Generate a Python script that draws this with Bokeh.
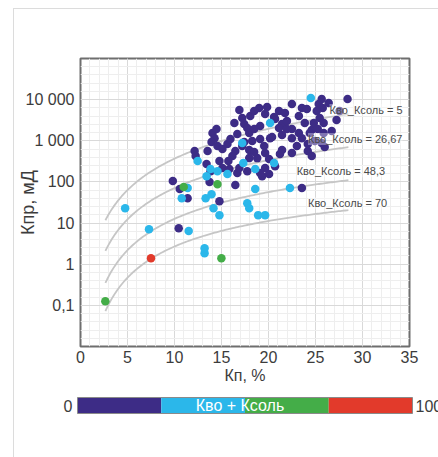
import numpy as np
from bokeh.plotting import figure
from bokeh.layouts import column
from bokeh.models import Range1d, FixedTicker, CustomJSTickFormatter, Label
from bokeh.core.properties import value
from bokeh.embed import file_html
from bokeh.resources import INLINE

FONT = "Liberation Sans"
TEXT = "#3c3c3c"

# ---- axes ----
x_ticks = [0, 5, 10, 15, 20, 25, 30, 35]
y_ticks = [0.1, 1, 10, 100, 1000, 10000]
y_tick_labels = ["0,1", "1", "10", "100", "1 000", "10 000"]

# ---- samples, grouped by Кво + Ксоль class ----
purple_kp = [9.82, 10.45, 10.56, 11.40, 12.14, 12.25, 13.41, 14.04, 14.26, 14.47,
             13.94, 14.57, 14.78, 13.73, 14.78, 13.52, 15.10, 15.63, 15.10, 13.83,
             15.84, 16.68, 17.74, 16.47, 16.47, 19.32, 19.64, 18.80, 20.06, 17.95,
             18.48, 17.42, 17.95, 16.68, 19.11, 20.38, 21.44, 22.49, 23.55, 24.92,
             25.98, 21.44, 22.49, 24.18, 24.60, 23.55, 24.60, 25.87, 22.49, 21.44,
             19.11, 17.42, 16.37, 20.70, 21.96, 23.23, 23.86, 24.82, 25.87, 27.24,
             19.64, 18.06, 16.90, 19.01, 19.85, 21.12, 22.49, 23.55, 25.34, 25.77,
             26.40, 28.41, 17.21, 20.59, 17.74, 18.48, 21.12, 20.17, 25.66, 25.13,
             24.08, 25.45, 24.39, 23.23, 25.66, 17.21, 16.16, 17.95, 19.64, 21.22,
             20.70, 16.90, 19.11, 20.06, 15.73, 21.75, 18.48, 21.96, 23.02, 19.54,
             15.95, 18.27, 24.18, 25.24, 27.56, 26.72]
purple_kpr = [105, 7.5, 67, 40, 561, 424, 271, 1540, 1160, 1930,
              930, 743, 321, 99, 34, 561, 628, 831, 217, 183,
              205, 164, 183, 561, 84, 138, 217, 379, 359, 594,
              531, 930, 1540, 1460, 1100, 1230, 1380, 1160, 1160, 984,
              703, 594, 502, 561, 424, 71, 1820, 1540, 1930, 2550,
              2280, 2550, 2700, 3370, 3020, 3990, 2700, 2700, 2700, 3190,
              4470, 3990, 5590, 6250, 6600, 5280, 7810, 6250, 7810, 6250,
              8260, 10350, 3570, 3770, 2040, 1930, 2040, 1160, 10350, 5280,
              5910, 3570, 1540, 1540, 880, 743, 424, 379, 502, 475,
              242, 217, 164, 155, 321, 4720, 5280, 1930, 743, 743,
              1100, 984, 831, 1930, 5280, 1720]

blue_kp = [4.75, 7.29, 11.51, 13.20, 13.20, 10.77, 11.40, 13.31, 13.94, 14.15,
           14.78, 12.46, 13.41, 13.83, 14.57, 15.63, 17.32, 18.59, 20.59, 18.59,
           22.28, 17.74, 17.95, 18.90, 19.64, 20.17, 24.50, 17.21]
blue_kpr = [23, 7.1, 6.4, 2.45, 1.85, 40, 71, 40, 50, 23,
            15.6, 321, 138, 205, 183, 155, 287, 205, 287, 67,
            71, 30.5, 23, 15.6, 15.6, 2700, 10900, 880]

green_kp = [10.98, 14.57, 14.99, 2.64]
green_kpr = [75, 88, 1.4, 0.126]

red_kp = [7.50]
red_kpr = [1.4]

# ---- Кво + Ксоль classes (colour scale) ----
bins = [0, 25, 50, 75, 100]
bin_colors = ["#3d2c86", "#2bb7ea", "#44ad48", "#e23a2b"]
scale_title = "Кво + Ксоль"

# ---- model curves Кпр(Кп) for fixed Кво_Ксоль, anchor points ----
curve_levels = ["5", "26,67", "48,3", "70"]
curve_kp = [2.65, 13.0, 28.5]
curve_kpr_5 = [11.7, 700, 4450]
curve_kpr_26 = [2.1, 131, 700]
curve_kpr_48 = [0.35, 23, 110]
curve_kpr_70 = [0.072, 4.8, 20.6]

# ================= main scatter =================
p = figure(width=424, height=386,
           x_range=Range1d(0, 35), y_range=Range1d(0.01, 1e5),
           y_axis_type="log", output_backend="svg", toolbar_location=None,
           min_border_left=63, min_border_right=29,
           min_border_top=49, min_border_bottom=49,
           background_fill_color="white", border_fill_color="white",
           outline_line_color="#6e6e6e", outline_line_width=2)

xt = FixedTicker(ticks=x_ticks, minor_ticks=list(range(0, 36)))
yt = FixedTicker(ticks=y_ticks,
                 minor_ticks=[10 ** (k + j / 5) for k in range(-2, 5) for j in range(1, 5)])
p.xaxis.ticker = xt
p.yaxis.ticker = yt
p.xgrid.ticker = xt
p.ygrid.ticker = yt
p.yaxis.formatter = CustomJSTickFormatter(
    args=dict(vals=y_ticks, labs=y_tick_labels),
    code="""
for (let i = 0; i < vals.length; i++) {
  if (Math.abs(Math.log10(tick) - Math.log10(vals[i])) < 1e-6) return labs[i];
}
return '';
""")

for g in (p.xgrid, p.ygrid):
    g.grid_line_color = "#d9d9d9"
    g.grid_line_width = 1
    g.minor_grid_line_color = "#eeeeee"
    g.minor_grid_line_width = 1

for ax in p.axis:
    ax.major_tick_line_color = None
    ax.minor_tick_line_color = None
    ax.major_tick_out = 0
    ax.major_tick_in = 0
    ax.minor_tick_out = 0
    ax.minor_tick_in = 0
    ax.axis_line_color = None
    ax.major_label_text_font = FONT
    ax.major_label_text_font_size = "16px"
    ax.major_label_text_color = TEXT
    ax.axis_label_text_font = FONT
    ax.axis_label_text_font_style = "normal"
    ax.axis_label_text_color = TEXT

p.xaxis.axis_label = "Кп, %"
p.xaxis.axis_label_text_font_size = "16px"
p.xaxis.major_label_standoff = 4
p.xaxis.axis_label_standoff = 1

p.yaxis.axis_label = "Кпр, мД"
p.yaxis.axis_label_text_font_size = "18px"
p.yaxis.major_label_standoff = 6
p.yaxis.axis_label_standoff = -15

# model curves: quadratic in log-log space through the anchor points
for kpr in (curve_kpr_5, curve_kpr_26, curve_kpr_48, curve_kpr_70):
    coef = np.polyfit(np.log10(curve_kp), np.log10(kpr), 2)
    xs = np.linspace(curve_kp[0], curve_kp[-1], 150)
    ys = 10 ** np.polyval(coef, np.log10(xs))
    p.line(xs, ys, line_color="#c6c6c6", line_width=1.8)

# sample points
for kp, kpr, col in ((purple_kp, purple_kpr, bin_colors[0]),
                     (blue_kp, blue_kpr, bin_colors[1]),
                     (green_kp, green_kpr, bin_colors[2]),
                     (red_kp, red_kpr, bin_colors[3])):
    p.scatter(kp, kpr, size=8.5, fill_color=col, line_color=None)

# curve labels
for (lx, ly), lvl in zip([(26.5, 5590), (24.2, 1100), (23.0, 183), (24.2, 30.5)], curve_levels):
    p.add_layout(Label(x=lx, y=ly, text=f"Кво_Ксоль = {lvl}",
                       text_font=FONT, text_font_size="11px", text_color="#4a4a4a",
                       text_baseline="middle",
                       background_fill_color="white", background_fill_alpha=0.35))

# ================= colour scale =================
# own frame over the whole strip: value 0 at px 63, 100 at px 398 (335 px bar)
cb = figure(width=424, height=62,
            x_range=Range1d(bins[0] - 63 / 3.35, bins[0] + 361 / 3.35),
            y_range=Range1d(0, 62),
            x_axis_type=None, y_axis_type=None,
            output_backend="svg", toolbar_location=None,
            min_border=0, outline_line_color=None,
            background_fill_color="white", border_fill_color="white")
cb.frame_align = False
cb.quad(left=bins[:-1], right=bins[1:], bottom=44, top=60,
        fill_color=bin_colors, line_color=None)
cb.quad(left=[bins[0]], right=[bins[-1]], bottom=44, top=60,
        fill_color=None, line_color="#8a8a8a", line_width=1)
cb.text(x=[(bins[0] + bins[-1]) / 2], y=[52], text=[scale_title], x_offset=-5,
        text_align="center", text_baseline="middle",
        text_font=value(FONT), text_font_size="16px", text_color="white")
cb.text(x=[bins[0]], y=[52], text=[str(bins[0])], x_offset=-5,
        text_align="right", text_baseline="middle",
        text_font=value(FONT), text_font_size="16px", text_color=TEXT)
cb.text(x=[bins[-1]], y=[52], text=[str(bins[-1])], x_offset=3,
        text_align="left", text_baseline="middle",
        text_font=value(FONT), text_font_size="16px", text_color=TEXT)

layout = column(p, cb, spacing=0)
layout.margin = (8, 0, 0, 13)
layout.styles = {"border-left": "1px solid #dcdcdc", "border-top": "1px solid #dcdcdc"}

open("out.html", "w").write(file_html(layout, INLINE))
